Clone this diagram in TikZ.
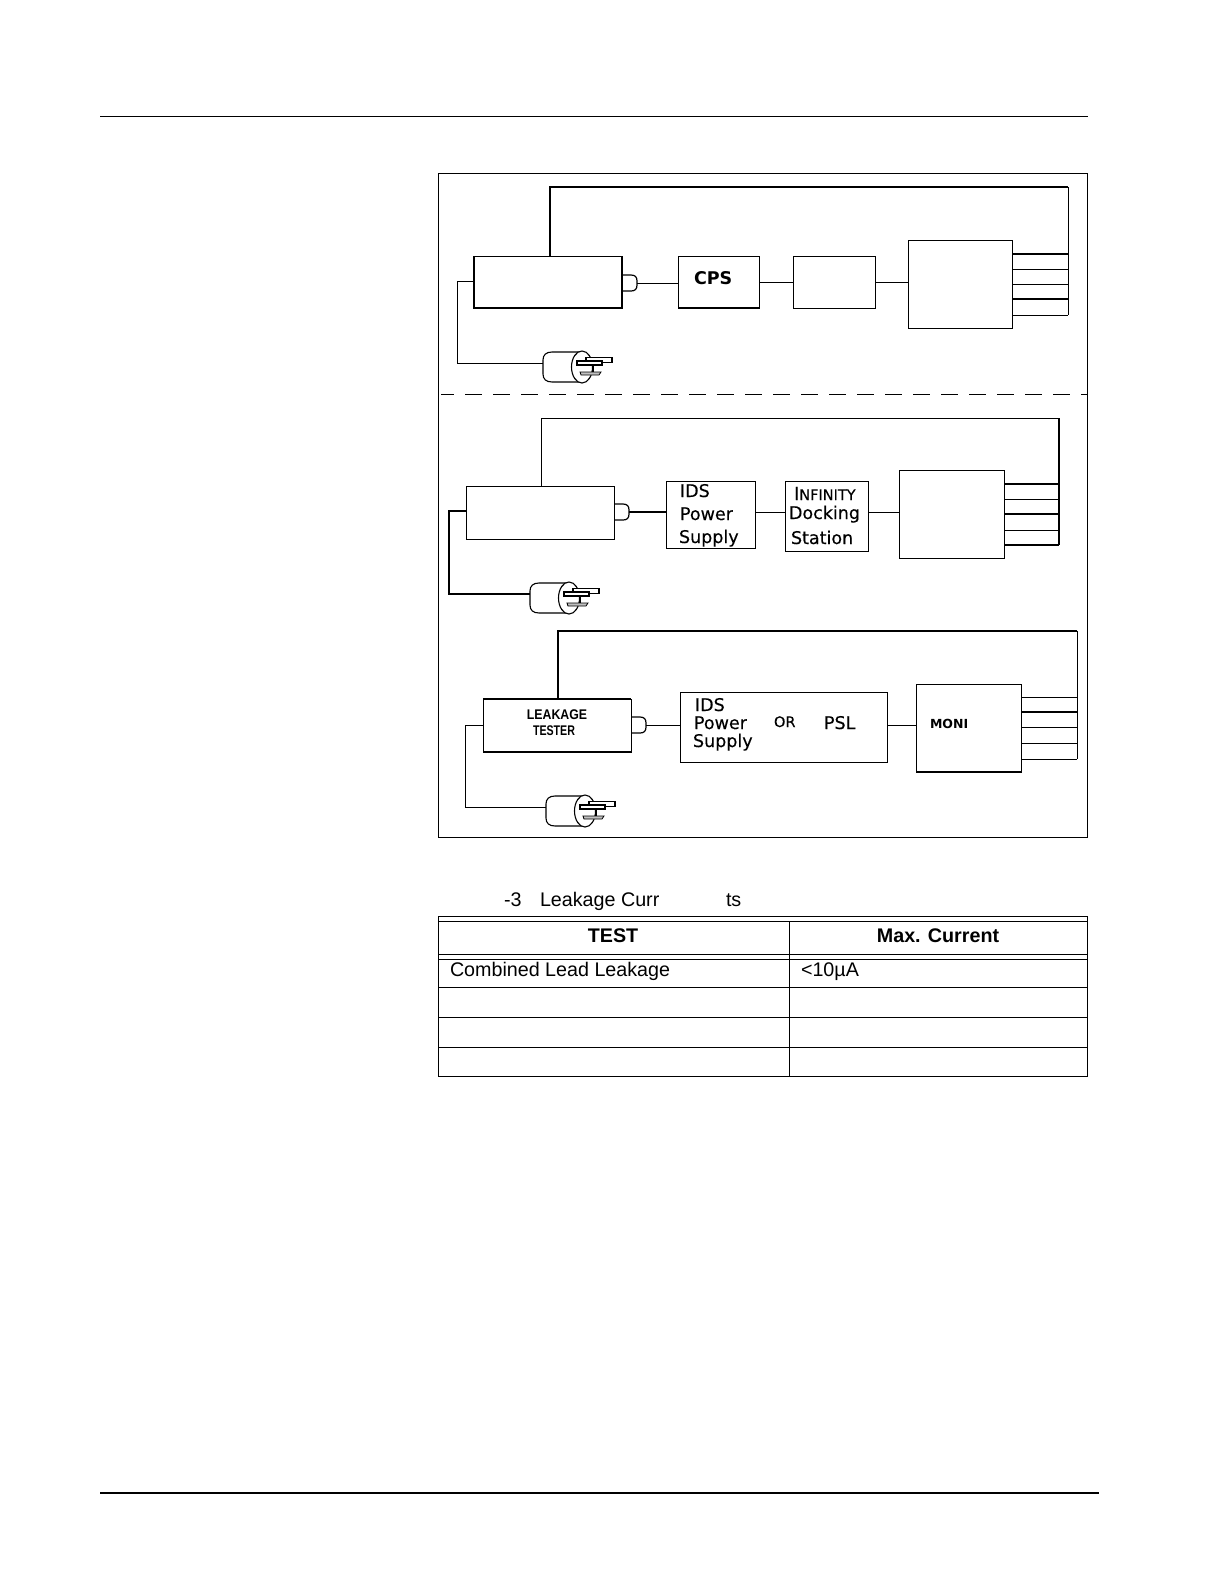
\documentclass[tikz,border=0pt]{standalone}
\usepackage{fontspec}
\setmainfont{Liberation Sans}
\newfontfamily\diag[FakeBold=0.25]{DejaVu Sans}
\newfontfamily\lkA[FakeStretch=0.88]{Liberation Sans}
\newfontfamily\lkB[FakeStretch=0.76]{Liberation Sans}
\tikzset{
  x=1pt,y=-1pt,
  wire/.style={draw=black,line width=0.9pt},
  hwire/.style={draw=black,line width=1.9pt},
  boxn/.style={draw=black,line width=1pt,fill=white,inner sep=0pt,outer sep=0pt,anchor=north west},
  lab/.style={anchor=base west,inner sep=0pt,outer sep=0pt,font=\diag\fontsize{17.5}{20}\selectfont},
  tlab/.style={anchor=base west,inner sep=0pt,outer sep=0pt,font=\fontsize{19.7}{22}\selectfont},
  thead/.style={anchor=base,inner sep=0pt,outer sep=0pt,font=\bfseries\fontsize{19.7}{22}\selectfont},
  rule/.style={draw=black,line width=0.9pt},
}
% name, x, y, w, h
\newcommand{\boxat}[6][]{\node[boxn,minimum width=#5pt,minimum height=#6pt,#1] (#2) at (#3,#4) {};}
% name, x, y of the top left corner of the socket
\newcommand{\socket}[3]{%
  \begin{scope}[shift={(#2,#3)}]
    \draw[line width=1.2pt] (0,0) -- (9,0) .. controls (13,0) and (15,2) .. (15,6) -- (15,10) .. controls (15,14) and (13,16) .. (9,16) -- (0,16);
    \coordinate (#1) at (15,8);
  \end{scope}}
% name, x, y of the left end of the plug body (on its axis)
\newcommand{\plug}[3]{%
  \begin{scope}[shift={(#2,#3)}]
    \draw[line width=1.1pt,fill=white] (39,-11) -- (9,-11) .. controls (3,-11) and (0,-8) .. (0,-3) -- (0,11) .. controls (0,16) and (3,19) .. (9,19) -- (39,19);
    \draw[line width=1.1pt,fill=white] (39,4) ellipse [x radius=10.5,y radius=16];
    \draw[line width=1.1pt] (50,2) -- (50,9);
    \draw[line width=1.3pt,fill=white] (43,-5.5) rectangle (69,-0.5);
    \draw[line width=1.5pt,fill=white] (34,-2) rectangle (59,2);
    \draw[line width=0.8pt,fill=lightgray] (37,9) -- (58,9) -- (56,12) -- (38,12) -- cycle;
    \coordinate (#1) at (0,0);
  \end{scope}}
\begin{document}
\begin{tikzpicture}
\useasboundingbox[fill=white] (0,0) rectangle (1224,1582);

\draw[rule] (100,116) -- (1088,116);
\draw[draw=black,line width=1.6pt] (100,1493) -- (1099,1493);
\node[boxn,minimum width=649pt,minimum height=664pt,fill=none] (frame) at (438,173) {};
\draw[line width=0.9pt,dash pattern=on 17pt off 11pt,dash phase=4pt] (441,394) -- (1087,394);

% ---------- first set-up
\boxat{tA}{474}{256}{148}{52}
\draw[hwire] (tA.north west) -- (tA.south west) -- (tA.south east) -- (tA.north east);
\socket{sA}{622}{275}
\boxat{cA}{678}{256}{81}{52}
\draw[hwire] (cA.south west) -- (cA.south east);
\boxat{dA}{793}{256}{82}{52}
\boxat{mA}{908}{240}{104}{88}
\node[lab,font=\fontspec{DejaVu Sans Bold}\fontsize{17.5}{20}\selectfont] (cpsl) at (694,284) {CPS};
\plug{pA}{543}{363}
\coordinate (aTop) at (550,187);
\coordinate (aCor) at (1068,187);
\coordinate (aEnd) at (1068,315);
\coordinate (aL) at (457,281);
\draw[hwire] (aTop|-tA.north) -- (aTop) -- (aCor);
\draw[wire] (aCor) -- (aEnd);
\draw[wire] (sA) -- (sA-|cA.west);
\draw[wire] (cA.east) -- (dA.west);
\draw[wire] (dA.east) -- (dA.east-|mA.west);
\draw[wire] (tA.west|-aL) -- (aL) -- (aL|-pA) -- (pA);
\draw[hwire] (mA.east|-0,254) -- (1068,254);
\draw[wire] (mA.east|-0,269) -- (1068,269);
\draw[wire] (mA.east|-0,284) -- (1068,284);
\draw[hwire] (mA.east|-0,299) -- (1068,299);
\draw[wire] (mA.east|-0,315) -- (aEnd);

% ---------- second set-up
\boxat{tB}{466}{486}{148}{53}
\socket{sB}{614}{504}
\boxat{cB}{666}{481}{89}{67}
\boxat{dB}{785}{481}{83}{70}
\boxat{mB}{899}{470}{105}{88}
\node[lab] (l1) at (680,497) {IDS};
\node[lab] (l2) at (680,520) {Power};
\node[lab] (l3) at (679,543) {Supply};
\node[lab] (l4) at (794,500) {\fontsize{18}{20}\selectfont I\fontsize{14.5}{20}\selectfont NFINITY};
\node[lab] (l5) at (789,519) {Docking};
\node[lab] (l6) at (791,544) {Station};
\plug{pB}{530}{594}
\coordinate (bTop) at (541,418);
\coordinate (bCor) at (1059,418);
\coordinate (bEnd) at (1059,545);
\coordinate (bL) at (449,511);
\draw[wire] (bTop|-tB.north) -- (bTop) -- (bCor);
\draw[hwire] (bCor) -- (bEnd);
\draw[hwire] (sB) -- (sB-|cB.west);
\draw[wire] (cB.east|-sB) -- (dB.west|-sB);
\draw[wire] (dB.east|-sB) -- (mB.west|-sB);
\draw[draw=black,line width=1.2pt] (tB.west|-bL) -- (bL) -- (bL|-pB) -- (pB);
\draw[hwire] (mB.east|-0,484) -- (1059,484);
\draw[wire] (mB.east|-0,499) -- (1059,499);
\draw[hwire] (mB.east|-0,514) -- (1059,514);
\draw[wire] (mB.east|-0,530) -- (1059,530);
\draw[hwire] (mB.east|-0,545) -- (bEnd);

% ---------- third set-up
\boxat{tC}{483}{699}{148}{53}
\draw[hwire] (tC.south west) -- (tC.south east);
\draw[hwire] (tC.north west) -- (tC.north east);
\socket{sC}{631}{717}
\boxat{cC}{680}{692}{207}{70}
\boxat{mC}{916}{684}{105}{88}
\draw[hwire] (mC.south west) -- (mC.south east);
\node[anchor=base,inner sep=0pt,font=\lkA\bfseries\fontsize{14}{16}\selectfont] (l7) at (557,719) {LEAKAGE};
\node[anchor=base,inner sep=0pt,font=\lkB\bfseries\fontsize{14}{16}\selectfont] (l8) at (554,735) {TESTER};
\node[lab] (l9) at (695,711) {IDS};
\node[lab] (l10) at (694,729) {Power};
\node[lab] (l11) at (693,747) {Supply};
\node[lab,font=\diag\fontsize{14.5}{16}\selectfont] (l12) at (774,727) {OR};
\node[lab] (l13) at (824,729) {PSL};
\node[lab,font=\fontspec{DejaVu Sans Bold}\fontsize{12.5}{14}\selectfont] (l14) at (930,728) {MONI};
\plug{pC}{546}{807}
\coordinate (cTop) at (558,631);
\coordinate (cCor) at (1077,631);
\coordinate (cEnd) at (1077,759);
\coordinate (cL) at (465,725);
\draw[hwire] (cTop|-tC.north) -- (cTop) -- (cCor);
\draw[wire] (cCor) -- (cEnd);
\draw[wire] (sC) -- (sC-|cC.west);
\draw[wire] (cC.east|-sC) -- (mC.west|-sC);
\draw[wire] (tC.west|-cL) -- (cL) -- (cL|-pC) -- (pC);
\draw[wire] (mC.east|-0,697) -- (1077,697);
\draw[hwire] (mC.east|-0,712) -- (1077,712);
\draw[wire] (mC.east|-0,727) -- (1077,727);
\draw[wire] (mC.east|-0,743) -- (1077,743);
\draw[wire] (mC.east|-0,759) -- (cEnd);

% ---------- caption and table
\node[tlab] (cap1) at (504,906) {-3};
\node[tlab] (cap2) at (540,906) {Leakage Curr};
\node[tlab] (cap3) at (726,906) {ts};
\draw[rule] (438,916) rectangle (1087,1076);
\draw[rule] (438,921) -- (1087,921);
\draw[rule] (438,954) -- (1087,954);
\draw[rule] (438,959) -- (1087,959);
\draw[rule] (438,987) -- (1087,987);
\draw[rule] (438,1017) -- (1087,1017);
\draw[rule] (438,1047) -- (1087,1047);
\draw[rule] (789,921) -- (789,1076);
\node[thead] (h1) at (613,942) {TEST};
\node[thead] (h2) at (938,942) {Max. Current};
\node[tlab] (c1) at (450,976) {Combined Lead Leakage};
\node[tlab] (c2) at (801,976) {<10µA};
\end{tikzpicture}
\end{document}
